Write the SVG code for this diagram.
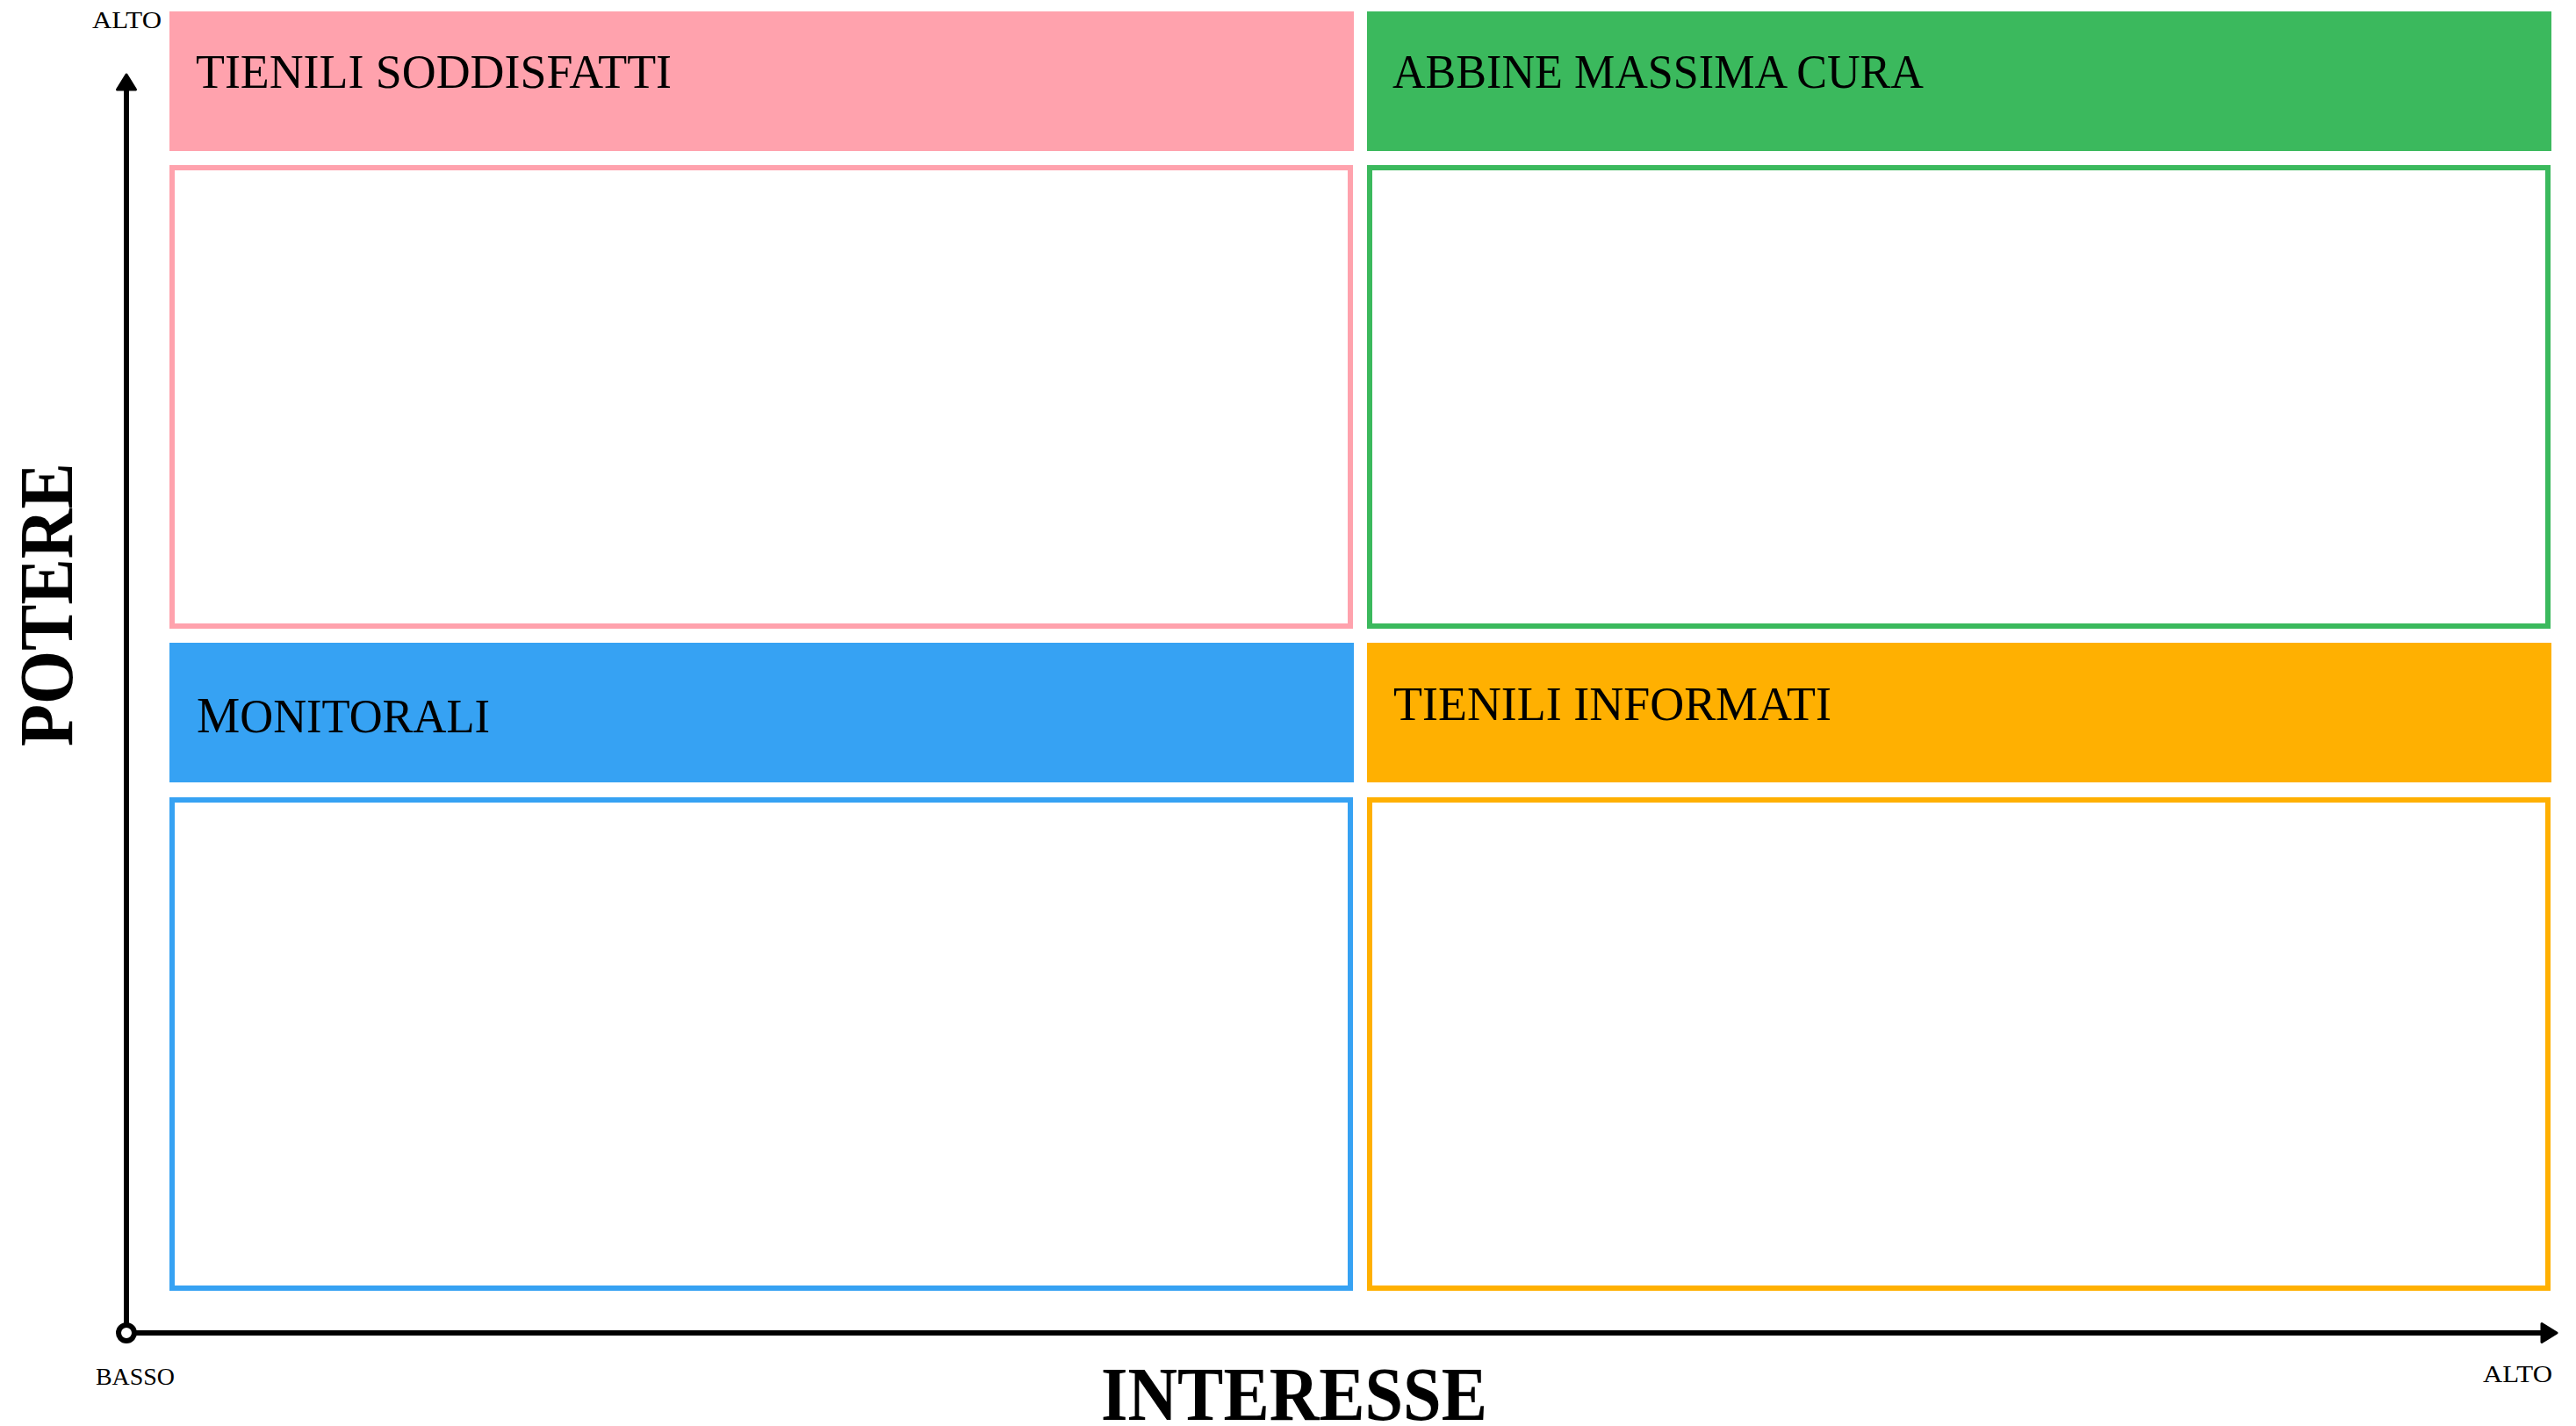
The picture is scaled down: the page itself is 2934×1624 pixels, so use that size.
<svg xmlns="http://www.w3.org/2000/svg" width="2934" height="1624" viewBox="0 0 2934 1624">
  <style>
    .lbl { font-family: "Liberation Serif", "DejaVu Serif", serif; fill: #000; }
    .hdr { font-size: 54px; }
    .small { font-size: 28px; }
    .axis-title { font-size: 86px; font-weight: bold; }
    .box { fill: #fff; stroke-width: 6; }
    .axis { stroke: #000; stroke-width: 6; fill: none; }
  </style>
  <defs>
    <marker id="arrow" markerUnits="userSpaceOnUse" markerWidth="24" markerHeight="26" viewBox="0 0 24 26" refX="3" refY="13" orient="auto">
      <path d="M3,2.5 L20,13 L3,23.5 Z" fill="#000" stroke="#000" stroke-width="3" stroke-linejoin="round"/>
    </marker>
  </defs>
  <rect width="2934" height="1624" fill="#fff"/>

  <g id="node-tienili-soddisfatti">
    <rect x="193" y="13" width="1349" height="159" fill="#FFA2AD"/>
    <rect class="box" x="196" y="191" width="1342" height="522" stroke="#FFA2AD"/>
    <text class="lbl hdr" x="223" y="100" textLength="542" lengthAdjust="spacingAndGlyphs">TIENILI SODDISFATTI</text>
  </g>

  <g id="node-abbine-massima-cura">
    <rect x="1557" y="13" width="1349" height="159" fill="#3BB95D"/>
    <rect class="box" x="1560" y="191" width="1342" height="522" stroke="#3BB95D"/>
    <text class="lbl hdr" x="1586" y="100" textLength="605" lengthAdjust="spacingAndGlyphs">ABBINE MASSIMA CURA</text>
  </g>

  <g id="node-monitorali">
    <rect x="193" y="732" width="1349" height="159" fill="#36A2F3"/>
    <rect class="box" x="196" y="911" width="1342" height="556" stroke="#36A2F3"/>
    <text class="lbl hdr" x="224" y="834" textLength="334" lengthAdjust="spacingAndGlyphs"><tspan font-size="57">M</tspan>ONITORALI</text>
  </g>

  <g id="node-tienili-informati">
    <rect x="1557" y="732" width="1349" height="159" fill="#FFB001"/>
    <rect class="box" x="1560" y="911" width="1342" height="556" stroke="#FFB001"/>
    <text class="lbl hdr" x="1587" y="820" textLength="499" lengthAdjust="spacingAndGlyphs">TIENILI INFORMATI</text>
  </g>

  <g id="connectors">
    <line class="axis" x1="144" y1="1518" x2="144" y2="102" marker-end="url(#arrow)"/>
    <line class="axis" x1="144" y1="1518" x2="2895" y2="1518" marker-end="url(#arrow)"/>
    <circle cx="144" cy="1518" r="9" fill="#fff" stroke="#000" stroke-width="6"/>
  </g>

  <g id="axis-labels">
    <text class="lbl small" x="105" y="32" textLength="79" lengthAdjust="spacingAndGlyphs">ALTO</text>
    <text class="lbl small" x="109" y="1577" font-size="30" textLength="90" lengthAdjust="spacingAndGlyphs">BASSO</text>
    <text class="lbl small" x="2828" y="1574" font-size="30" textLength="79" lengthAdjust="spacingAndGlyphs">ALTO</text>
    <text class="lbl axis-title" x="1254" y="1617" textLength="440" lengthAdjust="spacingAndGlyphs">INTERESSE</text>
    <text class="lbl axis-title" transform="translate(82,850) rotate(-90)" x="0" y="0" textLength="323" lengthAdjust="spacingAndGlyphs">POTERE</text>
  </g>
</svg>
